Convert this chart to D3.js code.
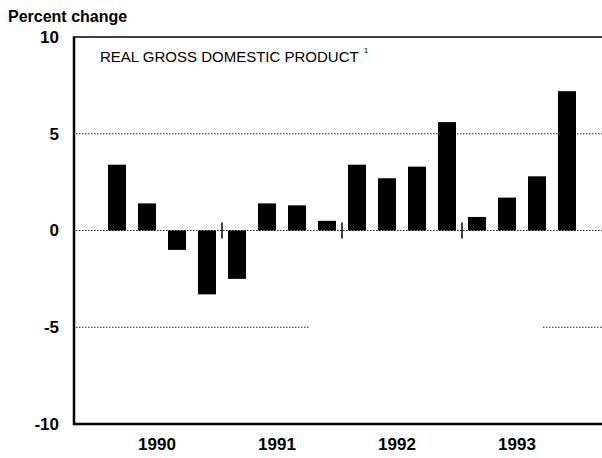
<!DOCTYPE html>
<html>
<head>
<meta charset="utf-8">
<script src="https://cdn.jsdelivr.net/npm/d3@7"></script>
<style>
  body { margin: 0; background: #fff; }
  svg { display: block; font-family: "Liberation Sans", Arial, Helvetica, sans-serif; }
</style>
</head>
<body>
<div class="chart"></div>
<script>
// quarterly real GDP, percent change (annual rate)
const quarters = ['1990Q1','1990Q2','1990Q3','1990Q4','1991Q1','1991Q2','1991Q3','1991Q4',
                  '1992Q1','1992Q2','1992Q3','1992Q4','1993Q1','1993Q2','1993Q3','1993Q4']
const gdpChange = [3.4, 1.4, -1.0, -3.3, -2.5, 1.4, 1.3, 0.5,
                   3.4, 2.7, 3.3, 5.6, 0.7, 1.7, 2.8, 7.2]
const years = ['1990','1991','1992','1993']
const yTicks = [-10, -5, 0, 5, 10]

const width = 602, height = 458
const svg = d3.select(".chart").append("svg")
    .attr("width", width)
    .attr("height", height)

const x = d3.scaleBand()
    .domain(quarters)
    .range([102, 582])
    .paddingInner(0.4)
    .paddingOuter(0.2)

const y = d3.scaleLinear()
    .domain([-10, 10])
    .range([424, 37])

const left = 74, right = width

// dotted grid lines
svg.selectAll('.grid')
    .data([5, 0])
    .enter()
    .append('line')
    .attr('x1', left + 2)
    .attr('x2', right)
    .attr('y1', d => y(d))
    .attr('y2', d => y(d))
    .attr('stroke', '#222')
    .attr('stroke-width', 1)
    .attr('stroke-dasharray', '1.5,1.5')

// the -5 line is only partly printed
const minus5 = [[left + 2, x('1991Q3') + x.bandwidth() + 4], [x('1993Q3') + x.bandwidth() - 3, right]]
svg.selectAll('.grid5')
    .data(minus5)
    .enter()
    .append('line')
    .attr('x1', d => d[0])
    .attr('x2', d => d[1])
    .attr('y1', y(-5))
    .attr('y2', y(-5))
    .attr('stroke', '#222')
    .attr('stroke-width', 1)
    .attr('stroke-dasharray', '1.5,1.5')

// bars
svg.selectAll('.bar')
    .data(gdpChange)
    .enter()
    .append('rect')
    .attr('x', (d, i) => x(quarters[i]))
    .attr('width', x.bandwidth())
    .attr('y', d => y(Math.max(0, d)))
    .attr('height', d => Math.abs(y(d) - y(0)))
    .attr('fill', '#000')

// year separators on the zero line
const step = x.step()
svg.selectAll('.sep')
    .data([1, 2, 3])
    .enter()
    .append('line')
    .attr('x1', d => x(quarters[d * 4]) - (step - x.bandwidth()) / 2)
    .attr('x2', d => x(quarters[d * 4]) - (step - x.bandwidth()) / 2)
    .attr('y1', y(0) - 8)
    .attr('y2', y(0) + 8)
    .attr('stroke', '#000')
    .attr('stroke-width', 1.5)

// frame
svg.append('line')
    .attr('x1', left).attr('x2', right)
    .attr('y1', y(10)).attr('y2', y(10))
    .attr('stroke', '#000').attr('stroke-width', 1.5)
svg.append('line')
    .attr('x1', left).attr('x2', right)
    .attr('y1', y(-10)).attr('y2', y(-10))
    .attr('stroke', '#000').attr('stroke-width', 2.5)
svg.append('line')
    .attr('x1', left).attr('x2', left)
    .attr('y1', y(10) - 0.75).attr('y2', y(-10) + 1.25)
    .attr('stroke', '#000').attr('stroke-width', 2.5)

// y tick labels
svg.selectAll('.ytick')
    .data(yTicks)
    .enter()
    .append('text')
    .attr('x', 59)
    .attr('y', d => y(d))
    .attr('dy', '0.35em')
    .attr('text-anchor', 'end')
    .attr('font-size', 17)
    .attr('font-weight', 'bold')
    .text(d => d)

// year labels, centred under each group of four quarters
svg.selectAll('.year')
    .data(years)
    .enter()
    .append('text')
    .attr('x', (d, i) => (x(quarters[i * 4]) + x(quarters[i * 4 + 3]) + x.bandwidth()) / 2 - 5)
    .attr('y', 450)
    .attr('text-anchor', 'middle')
    .attr('font-size', 17)
    .attr('font-weight', 'bold')
    .text(d => d)

svg.append('text')
    .attr('x', 8)
    .attr('y', 22)
    .attr('font-size', 16)
    .attr('font-weight', 'bold')
    .text('Percent change')

const title = svg.append('text')
    .attr('x', 100)
    .attr('y', 62)
    .attr('font-size', 15)
    .text('REAL GROSS DOMESTIC PRODUCT')
title.append('tspan')
    .attr('dx', 5)
    .attr('dy', -9)
    .attr('font-size', 8)
    .text('1')
</script>
</body>
</html>
